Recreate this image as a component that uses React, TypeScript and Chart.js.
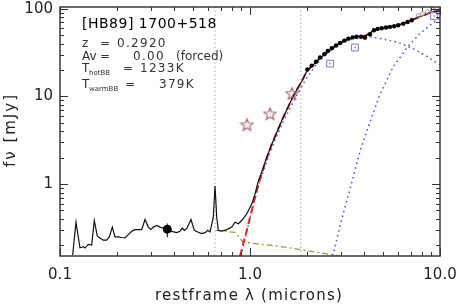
import React, { useEffect, useRef } from 'react';
import { Chart, registerables } from 'chart.js';
Chart.register(...registerables);

// ---------- data ----------
const specLambda = [0.1166,0.1214,0.1274,0.1327,0.1354,0.1409,0.1468,0.1515,0.1571,0.1624,0.1690,0.1761,0.1817,0.1885,0.1947,0.2027,0.2112,0.2198,0.2288,0.2384,0.2481,0.2637,0.2692,0.2802,0.2916,0.3013,0.3098,0.3228,0.3360,0.3497,0.3670,0.3871,0.4113,0.4281,0.4402,0.4510,0.4643,0.4892,0.5092,0.5305,0.5571,0.5798,0.5991,0.6160,0.6411,0.6546,0.6682,0.6814,0.7098,0.7543,0.8011,0.8338,0.8677,0.9044,0.9607,1.0207,1.0625,1.1058,1.157,1.229,1.305,1.387,1.474,1.585,1.684,1.768,1.878,1.995,2.120,2.226,2.336,2.482,2.637,2.836,2.976,3.162,3.360,3.613,3.886,4.079,4.387,4.717,5.135,5.799,6.545,7.388,8.340,9.077,10.0];
const specFlux = [0.155,0.367,0.1875,0.1924,0.1861,0.2048,0.2011,0.3839,0.2558,0.2428,0.2288,0.2288,0.2492,0.3228,0.2492,0.2492,0.2454,0.2428,0.2652,0.2888,0.3019,0.3019,0.3019,0.3939,0.3228,0.3042,0.3228,0.3374,0.3228,0.3147,0.3098,0.2888,0.2793,0.2888,0.3147,0.2964,0.3098,0.3939,0.2964,0.2836,0.2721,0.2793,0.2964,0.2836,0.4182,0.950,0.4182,0.2964,0.2911,0.3019,0.3228,0.367,0.3526,0.3839,0.4565,0.5911,0.766,1.081,1.400,2.064,2.888,3.940,5.374,7.52,10.0,11.99,15.13,19.6,22.3,24.7,27.4,30.4,33.7,38.4,40.4,43.7,46.0,48.4,48.4,49.7,55.1,58.9,61.2,63.6,69.6,77.2,85.6,92.5,95.0];

const totalLambda = [0.886,0.941,1.0,1.062,1.129,1.199,1.305,1.387,1.474,1.585,1.684,1.768,1.878,1.995,2.120,2.226,2.336,2.482,2.637,2.836,2.976,3.162,3.360,3.613,3.886,4.079,4.387,4.717,5.135,5.799,6.545,7.388,8.340,9.077,10.0];
const totalFlux = [0.151,0.2473,0.415,0.696,1.138,1.721,2.888,3.94,5.374,7.52,10.0,11.99,15.13,19.6,22.3,24.7,27.4,30.4,33.7,38.4,40.4,43.7,46.0,48.4,48.4,49.7,55.1,58.9,61.2,63.6,69.6,77.2,85.6,92.5,95.0];

const hotLambda = [0.897,0.941,1.0,1.062,1.129,1.229,1.354,1.528,1.725,1.948,2.199,2.482,2.802,3.162,3.57,4.03,4.55,5.13,6.01,7.12,8.34,9.64,10.0];
const hotFlux = [0.151,0.235,0.41,0.69,1.10,1.85,3.2,5.7,9.5,15.1,22.3,29.6,36.4,42.6,46.0,48.4,47.2,44.8,41.5,35.5,29.6,24.1,23.0];

const warmLambda = [2.734,2.976,3.36,3.79,4.28,4.83,5.66,6.79,7.85,9.08,10.0];
const warmFlux = [0.151,0.337,0.879,2.35,5.10,10.5,21.7,37.4,52.4,67.8,79.2];

const diskLambda = [0.66,0.70,0.834,0.919,1.528,2.976];
const diskFlux = [0.296,0.293,0.281,0.217,0.191,0.151];

const irLambda = [2.003,2.112,2.226,2.336,2.461,2.565,2.692,2.836,2.976,3.136,3.29,3.47,3.64,3.84,4.03,4.28,4.49,4.70,4.93,5.20,5.46,5.74,6.03,6.41,6.76,7.10];
const irFlux = [20.3,22.5,24.9,27.9,30.4,33.1,35.5,38.1,40.8,43.4,45.7,47.2,48.1,48.1,46.9,51.4,57.0,59.1,60.1,61.2,62.3,63.3,64.9,67.8,70.9,74.0];

const openLambda = [7.7,8.1,8.6,9.1,9.6];
const openFlux = [84,88,93,98,103];

const starLambda = [0.964,1.274,1.664];
const starFlux = [4.76,6.33,10.8];

const squareLambda = [2.64,3.57,9.3];
const squareFlux = [23.7,36.2,82.8];

const photLambda = [0.367];
const photFlux = [0.305];
const photErrLow = [0.247];
const photErrHigh = [0.355];

const markerLines = [0.655, 1.85];

const xMajorTicks = [0.1, 1, 10];
const xTickLabels = ['0.1', '1.0', '10.0'];
const xMinorTicks = [0.2,0.3,0.4,0.5,0.6,0.7,0.8,0.9,2,3,4,5,6,7,8,9];
const yMajorTicks = [1, 10, 100];
const yTickLabels = ['1', '10', '100'];
const yMinorTicks = [0.2,0.3,0.4,0.5,0.6,0.7,0.8,0.9,2,3,4,5,6,7,8,9,20,30,40,50,60,70,80,90];

const X_MIN = 0.1, X_MAX = 10, Y_MIN = 0.151, Y_MAX = 105;

const pts = (xs: number[], ys: number[]) => xs.map((x, i) => ({ x, y: ys[i] }));

function makeStar(color: string) {
  const c = document.createElement('canvas');
  c.width = 15; c.height = 15;
  const ctx = c.getContext('2d')!;
  ctx.strokeStyle = color; ctx.lineWidth = 1.1;
  ctx.beginPath();
  for (let i = 0; i < 10; i++) {
    const r = i % 2 === 0 ? 6.3 : 2.7;
    const a = -Math.PI / 2 + i * Math.PI / 5;
    const px = 7.5 + r * Math.cos(a), py = 8 + r * Math.sin(a);
    if (i === 0) ctx.moveTo(px, py); else ctx.lineTo(px, py);
  }
  ctx.closePath(); ctx.stroke();
  ctx.fillStyle = '#888'; ctx.fillRect(7, 7.5, 1, 1);
  return c;
}

const FONT = '"DejaVu Sans", sans-serif';

const framePlugin = {
  id: 'frame',
  afterDraw(chart: any) {
    const { ctx, chartArea: a, scales } = chart;
    const x = scales.x, y = scales.y;
    ctx.save();
    ctx.strokeStyle = '#333';
    ctx.lineWidth = 1;
    const xt = (v: number, len: number) => {
      const px = Math.round(x.getPixelForValue(v)) + 0.5;
      ctx.beginPath();
      ctx.moveTo(px, a.bottom); ctx.lineTo(px, a.bottom - len);
      ctx.moveTo(px, a.top); ctx.lineTo(px, a.top + len);
      ctx.stroke();
    };
    const yt = (v: number, len: number) => {
      const py = Math.round(y.getPixelForValue(v)) + 0.5;
      ctx.beginPath();
      ctx.moveTo(a.left, py); ctx.lineTo(a.left + len, py);
      ctx.moveTo(a.right, py); ctx.lineTo(a.right - len, py);
      ctx.stroke();
    };
    xMajorTicks.forEach(v => xt(v, 8));
    xMinorTicks.forEach(v => xt(v, 4));
    yMajorTicks.forEach(v => yt(v, 8));
    yMinorTicks.forEach(v => yt(v, 4));
    ctx.strokeStyle = '#3a3a3a';
    ctx.lineWidth = 1.5;
    ctx.strokeRect(a.left, a.top, a.right - a.left, a.bottom - a.top);

    const ls = (v: string) => { (ctx as any).letterSpacing = v; };

    ctx.fillStyle = '#222';
    ctx.font = '15px ' + FONT;
    ls('1.2px');
    ctx.textAlign = 'center';
    ctx.textBaseline = 'middle';
    ctx.fillText('restframe λ (microns)', 249, 296);
    ctx.save();
    ctx.translate(11, 130);
    ctx.rotate(-Math.PI / 2);
    ls('2px');
    ctx.fillText('fν [mJy]', 0, 0);
    ctx.restore();

    ctx.textAlign = 'left';
    ctx.textBaseline = 'alphabetic';
    ctx.fillStyle = '#000';
    ctx.font = '14px ' + FONT;
    ls('0.5px');
    ctx.fillText('[HB89] 1700+518', 82, 28);
    ctx.fillStyle = '#333';
    ctx.font = '12px ' + FONT;
    ls('0px');
    ctx.fillText('z', 82, 47);
    ctx.fillText('=', 100, 47);
    ctx.fillText('Av', 82, 60);
    ctx.fillText('=', 100, 60);
    ctx.fillText('(forced)', 176, 60);
    ctx.fillText('T', 82, 72);
    ctx.fillText('=', 123, 72);
    ctx.fillText('T', 82, 88);
    ctx.fillText('=', 125, 88);
    ls('1.3px');
    ctx.fillText('0.2920', 117, 47);
    ctx.fillText('0.00', 133, 60);
    ctx.fillText('1233K', 140, 72);
    ctx.fillText('379K', 159, 88);
    ctx.font = '7px ' + FONT;
    ls('0px');
    ctx.fillText('hotBB', 89, 75);
    ctx.fillText('warmBB', 89, 91);
    ctx.restore();
  },
};

export default function App() {
  const ref = useRef<HTMLCanvasElement>(null);
  useEffect(() => {
    const star = makeStar('#a05a5a');
    const chart = new Chart(ref.current!, {
      type: 'scatter',
      data: {
        datasets: [
          { data: pts(irLambda, irFlux), pointRadius: 2.2, pointBackgroundColor: '#000', pointBorderColor: '#000', borderWidth: 0 } as any,
          { data: pts(openLambda, openFlux), pointRadius: 2, pointBackgroundColor: 'rgba(0,0,0,0)', pointBorderColor: '#999', pointBorderWidth: 1 },
          { data: pts(photLambda, photFlux), pointRadius: 4, pointBackgroundColor: '#000', pointBorderColor: '#000' },
          { data: [{ x: photLambda[0], y: photErrLow[0] }, { x: photLambda[0], y: photErrHigh[0] }], showLine: true, borderColor: '#000', borderWidth: 1, pointRadius: 0 },
          { data: pts(starLambda, starFlux), pointStyle: star, pointRadius: 6 },
          { data: pts(squareLambda, squareFlux), pointStyle: 'rect', pointRadius: 4.8, pointBackgroundColor: 'rgba(0,0,0,0)', pointBorderColor: '#7878d8', pointBorderWidth: 1 },
          { data: pts(squareLambda, squareFlux), pointRadius: 0.8, pointBackgroundColor: '#777', pointBorderWidth: 0 },
          { data: pts(specLambda, specFlux), showLine: true, borderColor: '#111', borderWidth: 1.2, pointRadius: 0 },
          { data: pts(totalLambda, totalFlux), showLine: true, borderColor: '#ee2222', borderWidth: 2, borderDash: [7, 4], pointRadius: 0 },
          { data: pts(hotLambda, hotFlux), showLine: true, borderColor: '#5a5af0', borderWidth: 1.6, borderDash: [1.6, 3.4], pointRadius: 0 },
          { data: pts(warmLambda, warmFlux), showLine: true, borderColor: '#5a5af0', borderWidth: 1.6, borderDash: [1.6, 3.4], pointRadius: 0 },
          { data: pts(diskLambda, diskFlux), showLine: true, borderColor: '#a8982a', borderWidth: 1.3, borderDash: [6, 3, 2, 3], pointRadius: 0 },
          ...markerLines.map(v => ({ data: [{ x: v, y: Y_MIN }, { x: v, y: Y_MAX }], showLine: true, borderColor: '#b0b0b0', borderWidth: 1, borderDash: [1.5, 2.5], pointRadius: 0 })),
        ],
      },
      options: {
        animation: false,
        responsive: false,
        devicePixelRatio: 1,
        layout: { padding: { top: 3, right: 18, left: 0, bottom: 0 } },
        plugins: { legend: { display: false }, tooltip: { enabled: false } },
        events: [],
        scales: {
          x: {
            type: 'logarithmic', min: X_MIN, max: X_MAX,
            grid: { display: false, drawTicks: false },
            border: { display: false },
            afterFit: (s: any) => { s.height = 49; s.paddingLeft = 0; s.paddingRight = 0; },
            afterBuildTicks: (s: any) => { s.ticks = xMajorTicks.map(v => ({ value: v })); },
            ticks: {
              autoSkip: false, maxRotation: 0, padding: 10, color: '#222',
              font: { family: FONT, size: 15 },
              callback: (v: any) => { const i = xMajorTicks.indexOf(Number(v)); return i >= 0 ? xTickLabels[i] : ''; },
            },
          },
          y: {
            type: 'logarithmic', min: Y_MIN, max: Y_MAX,
            grid: { display: false, drawTicks: false },
            border: { display: false },
            afterFit: (s: any) => { s.width = 60; s.paddingTop = 0; s.paddingBottom = 0; },
            afterBuildTicks: (s: any) => { s.ticks = yMajorTicks.map(v => ({ value: v })); },
            ticks: {
              autoSkip: false, padding: 7, color: '#222',
              font: { family: FONT, size: 15 },
              callback: (v: any) => { const i = yMajorTicks.indexOf(Number(v)); return i >= 0 ? yTickLabels[i] : ''; },
            },
          },
        },
      } as any,
      plugins: [framePlugin],
    });
    return () => chart.destroy();
  }, []);
  return (
    <div style={{ position: 'absolute', left: 0, top: 0, width: 458, height: 305, background: '#fff' }}>
      <canvas ref={ref} width={458} height={305} />
    </div>
  );
}
